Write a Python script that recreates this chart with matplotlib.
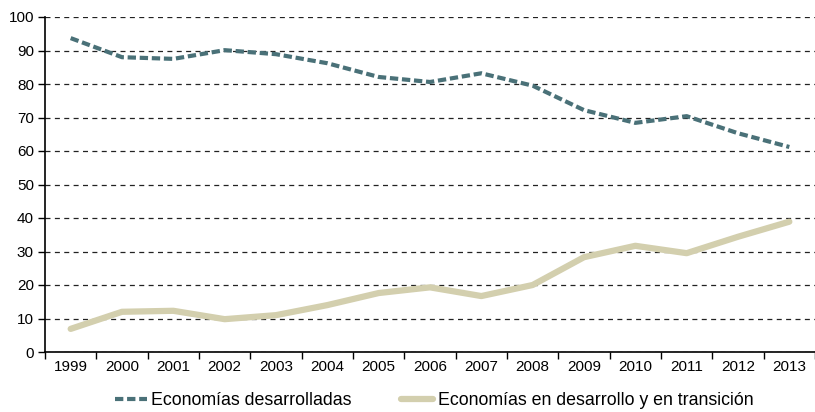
import matplotlib
matplotlib.use('Agg')
import matplotlib.pyplot as plt
import numpy as np

# chart data
years = ['1999', '2000', '2001', '2002', '2003', '2004', '2005', '2006',
         '2007', '2008', '2009', '2010', '2011', '2012', '2013']
desarrolladas = [93.7, 88.0, 87.5, 90.1, 88.9, 86.2, 82.1, 80.6,
                 83.2, 79.5, 72.2, 68.4, 70.4, 65.3, 61.2]
en_desarrollo = [6.9, 12.0, 12.3, 9.8, 11.0, 14.0, 17.6, 19.3,
                 16.7, 20.0, 28.3, 31.7, 29.5, 34.4, 38.9]
labels = ['Economías desarrolladas', 'Economías en desarrollo y en transición']

plt.rcParams['font.family'] = ['Liberation Sans', 'DejaVu Sans']

fig = plt.figure(figsize=(8.15, 4.12), dpi=100)
ax = fig.add_axes([45/815, 1 - 352/412, 1 - 45/815, 335/412])

x = np.arange(len(years))
ax.plot(x, desarrolladas, color='#4a7178', lw=3.0, dashes=(2.0, 0.9),
        solid_capstyle='butt', label=labels[0], zorder=3)
ax.plot(x, en_desarrollo, color='#d3cfae', lw=4.5, solid_capstyle='round',
        label=labels[1], zorder=3)

ax.set_ylim(0, 100)
ax.set_xlim(-0.5, 14.36)
ax.set_yticks(np.arange(0, 101, 10))
ax.yaxis.grid(True, color='#222222', lw=0.9, dashes=(4, 3.5))
ax.set_axisbelow(True)

# category boundaries as ticks, years as labels between them
ax.set_xticks(np.arange(-0.5, 14.6, 1))
ax.set_xticklabels([])
ax.set_xticks(x, minor=True)
ax.set_xticklabels(years, minor=True)
ax.tick_params(axis='x', which='minor', length=0, pad=6, labelsize=11)
ax.tick_params(axis='x', which='major', length=5, width=1, direction='out')
ax.tick_params(axis='y', length=5, width=1, direction='out', labelsize=11, pad=3)

for s in ['top', 'right']:
    ax.spines[s].set_visible(False)
for s in ['left', 'bottom']:
    ax.spines[s].set_linewidth(1.2)
    ax.spines[s].set_color('black')

fig.legend(loc='center', bbox_to_anchor=(0.5325, 0.027), ncol=2, frameon=False,
           fontsize=12.8, handlelength=1.8, handletextpad=0.25, columnspacing=2.8)

fig.savefig('out.png', dpi=100)
